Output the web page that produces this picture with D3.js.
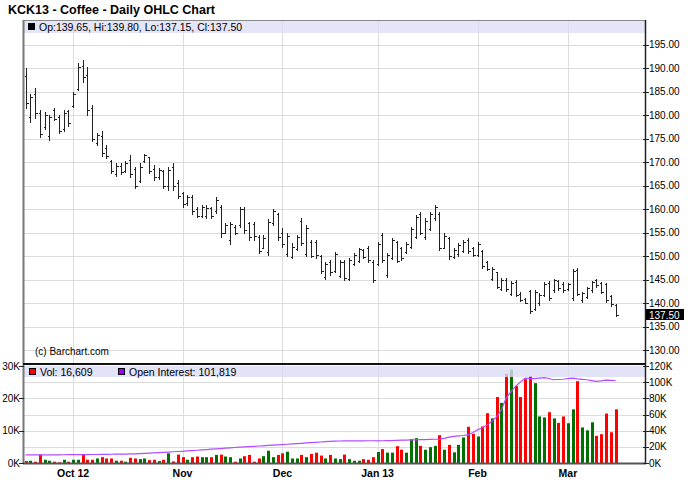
<!DOCTYPE html>
<html><head><meta charset="utf-8">
<script src="https://cdn.jsdelivr.net/npm/d3@7/dist/d3.min.js"></script>
<style>
body{margin:0;background:#fff}
svg{display:block}
text{font-family:"Liberation Sans",Arial,sans-serif}
</style>
</head><body>
<svg id="chart" width="688" height="503"></svg>
<script>
// ---------------- DATA ----------------
const dates = [
"2012-09-17","2012-09-18","2012-09-19","2012-09-20","2012-09-21","2012-09-24","2012-09-25","2012-09-26","2012-09-27","2012-09-28",
"2012-10-01","2012-10-02","2012-10-03","2012-10-04","2012-10-05","2012-10-08","2012-10-09","2012-10-10","2012-10-11","2012-10-12",
"2012-10-15","2012-10-16","2012-10-17","2012-10-18","2012-10-19","2012-10-22","2012-10-23","2012-10-24","2012-10-25","2012-10-26",
"2012-10-29","2012-10-30","2012-10-31",
"2012-11-01","2012-11-02","2012-11-05","2012-11-06","2012-11-07","2012-11-08","2012-11-09","2012-11-12","2012-11-13","2012-11-14",
"2012-11-15","2012-11-16","2012-11-19","2012-11-20","2012-11-21","2012-11-23","2012-11-26","2012-11-27","2012-11-28","2012-11-29","2012-11-30",
"2012-12-03","2012-12-04","2012-12-05","2012-12-06","2012-12-07","2012-12-10","2012-12-11","2012-12-12","2012-12-13","2012-12-14",
"2012-12-17","2012-12-18","2012-12-19","2012-12-20","2012-12-21","2012-12-24","2012-12-26","2012-12-27","2012-12-28","2012-12-31",
"2013-01-02","2013-01-03","2013-01-04","2013-01-07","2013-01-08","2013-01-09","2013-01-10","2013-01-11","2013-01-14","2013-01-15",
"2013-01-16","2013-01-17","2013-01-18","2013-01-22","2013-01-23","2013-01-24","2013-01-25","2013-01-28","2013-01-29","2013-01-30","2013-01-31",
"2013-02-01","2013-02-04","2013-02-05","2013-02-06","2013-02-07","2013-02-08","2013-02-11","2013-02-12","2013-02-13","2013-02-14",
"2013-02-15","2013-02-19","2013-02-20","2013-02-21","2013-02-22","2013-02-25","2013-02-26","2013-02-27","2013-02-28",
"2013-03-01","2013-03-04","2013-03-05","2013-03-06","2013-03-07","2013-03-08","2013-03-11","2013-03-12","2013-03-13","2013-03-14","2013-03-15"
];
const opens = [188.2,179.5,184.5,180.5,177.5,175.5,181.0,179.5,177.0,180.8,182.0,185.5,190.5,188.5,181.5,174.0,175.5,173.0,170.2,167.5,
169.2,168.0,170.5,168.5,166.0,170.2,171.0,168.5,166.8,168.0,164.8,169.0,165.5,163.5,161.2,162.5,160.0,158.6,158.5,160.2,
159.5,160.5,155.0,153.5,156.2,156.5,160.0,157.0,156.8,154.0,151.8,150.8,157.0,159.0,155.0,150.5,149.8,151.5,157.5,150.5,
153.0,153.0,150.0,145.5,148.8,146.8,145.8,148.8,145.2,148.3,149.0,151.2,151.8,148.8,148.3,154.5,146.0,149.6,153.0,151.8,
150.8,152.0,154.0,159.0,154.0,155.8,158.0,159.0,151.8,153.8,149.8,150.4,151.0,153.5,151.8,150.2,151.0,148.7,145.2,146.5,
143.0,145.0,141.9,144.5,142.0,140.9,142.5,138.8,139.9,141.7,144.3,142.7,144.6,144.0,143.0,141.0,147.0,140.6,141.3,142.7,
144.9,144.2,144.0,141.5,139.65];
const highs = [190.1,184.4,185.7,181.1,180.6,180.0,181.4,180.0,181.1,181.1,185.0,191.0,191.7,190.3,182.1,176.1,176.6,173.6,170.4,169.7,
169.7,170.2,171.5,169.0,169.7,171.8,171.1,169.4,168.7,168.3,168.9,169.7,166.2,163.7,163.0,163.0,160.5,160.9,160.9,160.5,
162.6,160.9,157.0,157.3,156.6,160.5,160.5,157.3,157.3,154.5,154.5,157.8,160.1,159.2,155.9,154.8,152.7,154.5,158.0,156.6,
153.3,153.4,150.2,148.8,149.1,150.9,149.1,149.1,149.6,150.6,151.8,151.5,152.2,149.1,152.9,154.8,150.6,153.9,153.2,152.0,
152.9,156.2,158.7,159.3,158.0,159.4,160.9,159.4,154.8,154.1,151.6,152.7,153.4,153.8,152.0,152.9,151.3,148.9,147.7,146.7,
145.4,145.3,144.7,144.9,142.4,141.1,142.8,142.8,142.1,144.4,144.7,145.1,144.9,144.4,144.2,147.2,147.5,142.4,143.5,144.7,
145.1,144.4,144.2,141.7,139.80];
const lows = [181.5,178.6,179.3,175.4,177.0,174.7,178.9,176.1,176.6,177.7,181.8,185.3,187.1,180.0,174.5,173.6,171.3,170.8,167.6,167.1,
167.4,167.8,166.9,164.5,165.8,169.9,167.6,166.2,166.4,164.5,164.0,164.0,162.3,160.5,160.9,158.9,158.2,158.4,158.0,158.0,
159.1,154.1,154.8,152.6,154.7,156.1,155.0,153.5,153.4,150.6,151.6,150.2,156.6,153.4,152.0,150.0,149.5,151.3,152.3,149.9,
149.7,149.5,146.3,145.2,146.0,146.5,145.6,144.9,144.9,148.1,148.8,149.5,148.8,144.4,148.1,148.8,145.6,149.4,148.7,149.1,
150.6,151.8,153.8,154.6,153.6,155.5,157.7,151.3,151.6,149.4,149.6,150.1,150.8,150.6,149.9,149.9,147.4,147.0,144.9,143.1,
142.8,142.6,141.6,141.4,140.4,139.9,137.8,138.5,139.6,141.4,140.6,142.4,142.8,142.4,142.8,140.6,141.7,140.3,141.0,142.4,
143.5,142.1,140.3,139.4,137.15];
const closes = [182.5,183.9,180.5,176.0,180.0,179.5,179.2,176.5,180.5,178.2,184.5,190.2,188.0,181.0,175.0,175.8,172.0,171.2,168.0,169.2,
167.8,169.8,167.5,165.0,169.0,171.5,168.0,166.8,168.2,165.0,168.2,165.0,162.8,161.0,162.5,159.5,158.6,160.5,160.2,158.5,
162.0,155.0,156.5,156.8,155.0,160.0,155.5,154.0,154.2,151.0,153.8,157.2,159.5,154.0,152.5,154.2,152.0,154.0,152.8,156.0,
150.0,150.2,146.8,148.3,146.5,150.5,148.8,145.3,149.2,150.2,151.5,149.8,149.2,145.0,152.5,149.2,150.2,153.5,149.0,149.5,
152.6,155.8,158.3,155.0,157.5,159.0,160.5,151.8,154.3,150.0,151.3,152.3,153.0,151.0,150.2,152.5,147.8,147.3,147.3,143.5,
145.0,143.0,144.3,141.8,140.7,140.1,138.2,142.3,141.8,144.0,141.0,144.8,143.1,142.7,144.0,146.8,142.0,142.1,143.2,144.4,
143.8,142.4,140.6,139.7,137.50];
// volume in thousands of contracts (left scale)
const volumes = [0.6,0.7,0.4,2.6,1.0,0.7,0.4,0.2,1.0,0.4,1.0,1.0,2.6,1.0,1.0,1.4,1.8,1.4,1.4,0.7,
0.7,0.4,1.6,1.4,1.2,1.4,0.9,1.0,0.6,1.0,3.0,0.5,2.6,1.8,1.0,1.8,2.0,1.8,1.8,1.8,
2.5,2.6,2.0,1.8,0.4,1.4,2.1,2.5,0.4,1.4,2.1,3.8,1.8,2.5,3.0,3.5,1.4,1.4,2.5,1.8,
2.8,3.2,2.3,1.4,2.5,1.4,1.2,2.6,1.2,0.7,0.7,1.2,1.0,1.8,3.4,4.3,3.2,3.2,5.2,4.1,
3.2,7.4,7.7,5.3,4.1,4.9,5.3,8.6,4.1,5.6,3.3,5.6,7.9,11.2,9.0,8.2,11.3,15.4,13.8,20.4,
18.6,27.6,28.9,23.8,20.4,25.9,26.9,24.7,14.4,14.1,15.7,13.8,12.4,14.4,12.3,16.6,25.3,11.0,10.1,12.6,
8.4,8.9,15.3,9.5,16.609];
// open interest in thousands of contracts (right scale)
const openInterest = [10.0,10.0,10.1,10.0,10.1,10.1,10.2,10.1,10.2,10.3,10.3,10.4,10.3,10.4,10.5,10.5,10.6,10.7,10.8,10.9,
11.0,11.1,11.2,11.4,11.7,12.0,12.3,12.6,12.9,13.2,13.5,13.9,14.2,14.5,14.9,15.3,15.8,16.2,16.6,17.1,
17.5,17.9,18.4,18.8,19.2,19.6,19.9,20.3,20.6,21.0,21.3,21.7,22.1,22.4,22.8,23.2,23.6,24.0,24.4,24.8,
25.2,25.6,26.0,26.4,26.7,27.0,27.2,27.3,27.4,27.4,27.3,27.4,27.5,27.5,27.4,27.5,27.6,27.8,28.0,28.2,
28.4,28.6,28.7,28.9,29.0,29.2,29.4,29.5,30.5,32.0,33.0,33.6,34.0,34.8,37.5,41.0,43.5,47.0,51.5,57.0,
65.5,80.0,88.0,95.0,100.0,105.0,104.5,104.4,105.0,105.7,104.5,103.0,103.3,103.6,104.5,105.0,104.0,103.5,103.0,102.0,
101.0,101.5,102.4,102.1,101.819];
const priceTicks = [130,135,140,145,150,155,160,165,170,175,180,185,190,195];
const volTicks = [0,10,20,30];
const oiTicks = [0,20,40,60,80,100,120];
const monthStarts = ["2012-10-01","2012-11-01","2012-12-03","2013-01-02","2013-02-01","2013-03-01"];
const monthLabels = ["Oct 12","Nov","Dec","Jan 13","Feb","Mar"];

// ---------------- LAYOUT ----------------
const svg = d3.select("#chart");
const L = 24, R = 645, T = 20, MB = 364, VT = 365, VB = 463;
const x = d3.scalePoint().domain(dates).range([25.5, 615.5]);
const y = d3.scaleLinear().domain([130, 195]).range([350, 44.5]);
const yV = d3.scaleLinear().domain([0, 30]).range([VB, 366]);
const yOI = d3.scaleLinear().domain([0, 120]).range([VB, 366]);
const px = v => Math.round(v) + 0.5;
const gridCol = "#dcdcdc";

svg.append("rect").attr("width", 688).attr("height", 503).attr("fill", "#fff");

// title
svg.append("text").attr("x", 8).attr("y", 14).attr("font-size", 12.5).attr("font-weight", "bold")
  .attr("fill", "#000").text("KCK13 - Coffee - Daily OHLC Chart");

// price gridlines
svg.append("g").selectAll("line").data(priceTicks).join("line")
  .attr("x1", L).attr("x2", R).attr("y1", d => px(y(d))).attr("y2", d => px(y(d)))
  .attr("stroke", gridCol).attr("stroke-width", 1);
// volume gridlines
svg.append("g").selectAll("line").data(oiTicks.slice(1, -1)).join("line")
  .attr("x1", L).attr("x2", R).attr("y1", d => px(yOI(d))).attr("y2", d => px(yOI(d)))
  .attr("stroke", gridCol).attr("stroke-width", 1);
// month gridlines
svg.append("g").selectAll("line").data(monthStarts).join("line")
  .attr("x1", d => px(x(d))).attr("x2", d => px(x(d))).attr("y1", T).attr("y2", VB)
  .attr("stroke", gridCol).attr("stroke-width", 1);

// OHLC bars
const bars = svg.append("g").attr("stroke", "#222").attr("stroke-width", 1).attr("shape-rendering", "crispEdges");
dates.forEach((d, i) => {
  const cx = px(x(d));
  bars.append("line").attr("x1", cx).attr("x2", cx).attr("y1", Math.round(y(highs[i]))).attr("y2", Math.round(y(lows[i])) + 1);
  bars.append("line").attr("x1", cx - 2).attr("x2", cx).attr("y1", px(y(opens[i]))).attr("y2", px(y(opens[i])));
  bars.append("line").attr("x1", cx).attr("x2", cx + 2.5).attr("y1", px(y(closes[i]))).attr("y2", px(y(closes[i])));
});

// main legend band
svg.append("rect").attr("x", L).attr("y", T).attr("width", R - L).attr("height", 13)
  .attr("fill", "#dcdcf5").attr("opacity", 0.75);
svg.append("rect").attr("x", 28).attr("y", 23).attr("width", 7).attr("height", 7).attr("fill", "#000");
const n = dates.length - 1;
svg.append("text").attr("x", 39).attr("y", 30.5).attr("font-size", 10.5).attr("fill", "#000")
  .text(`Op:${opens[n].toFixed(2)}, Hi:${highs[n].toFixed(2)}, Lo:${lows[n].toFixed(2)}, Cl:${closes[n].toFixed(2)}`);

// copyright
svg.append("text").attr("x", 35).attr("y", 355).attr("font-size", 10).attr("fill", "#000").text("(c) Barchart.com");

// volume bars
svg.append("g").selectAll("rect").data(dates).join("rect")
  .attr("x", d => Math.round(x(d)) - 1).attr("width", 3)
  .attr("y", (d, i) => yV(volumes[i])).attr("height", (d, i) => VB - yV(volumes[i]))
  .attr("fill", (d, i) => closes[i] >= opens[i] ? "#007000" : "#ff0000");

// volume legend band
svg.append("rect").attr("x", L).attr("y", 366).attr("width", R - L).attr("height", 11)
  .attr("fill", "#dcdcf5").attr("opacity", 0.8);
svg.append("rect").attr("x", 29.5).attr("y", 368.5).attr("width", 6).attr("height", 6)
  .attr("fill", "#ff0000").attr("stroke", "#000").attr("stroke-width", 1);
svg.append("text").attr("x", 40).attr("y", 375.5).attr("font-size", 10.5).attr("fill", "#000")
  .text("Vol: " + d3.format(",")(Math.round(volumes[n] * 1000)));
svg.append("rect").attr("x", 118.5).attr("y", 368.5).attr("width", 6).attr("height", 6)
  .attr("fill", "#9900ff").attr("stroke", "#000").attr("stroke-width", 1);
svg.append("text").attr("x", 129).attr("y", 375.5).attr("font-size", 10.5).attr("fill", "#000")
  .text("Open Interest: " + d3.format(",")(Math.round(openInterest[n] * 1000)));

// open interest line
svg.append("path").datum(dates)
  .attr("d", d3.line().x(d => x(d)).y((d, i) => yOI(openInterest[i])))
  .attr("fill", "none").attr("stroke", "#b44cff").attr("stroke-width", 1.2);

// frame
svg.append("line").attr("x1", L).attr("x2", R).attr("y1", T + 0.5).attr("y2", T + 0.5).attr("stroke", "#888");
svg.append("line").attr("x1", L - 0.5).attr("x2", L - 0.5).attr("y1", T).attr("y2", VB + 1).attr("stroke", "#777").attr("stroke-width", 2);
svg.append("line").attr("x1", R + 0.5).attr("x2", R + 0.5).attr("y1", T).attr("y2", VB + 1).attr("stroke", "#222").attr("stroke-width", 1.5);
svg.append("line").attr("x1", L - 1).attr("x2", R + 1).attr("y1", MB).attr("y2", MB).attr("stroke", "#111").attr("stroke-width", 2);
svg.append("line").attr("x1", L - 1).attr("x2", R + 1).attr("y1", VB + 0.5).attr("y2", VB + 0.5).attr("stroke", "#555").attr("stroke-width", 2);

// right price axis
const ra = svg.append("g");
ra.selectAll("line").data(priceTicks).join("line")
  .attr("x1", R - 2).attr("x2", R + 4).attr("y1", d => px(y(d))).attr("y2", d => px(y(d))).attr("stroke", "#222");
ra.selectAll("text").data(priceTicks).join("text")
  .attr("x", 649).attr("y", d => y(d) + 3.5).attr("font-size", 10).attr("fill", "#000")
  .text(d => d.toFixed(2));
// last price box
svg.append("rect").attr("x", 646).attr("y", Math.round(y(closes[n])) - 6).attr("width", 38).attr("height", 11).attr("fill", "#000");
svg.append("text").attr("x", 649).attr("y", Math.round(y(closes[n])) + 3.5).attr("font-size", 10).attr("fill", "#fff")
  .text(closes[n].toFixed(2));

// right OI axis
const oa = svg.append("g");
oa.selectAll("line").data(oiTicks).join("line")
  .attr("x1", R - 2).attr("x2", R + 4).attr("y1", d => px(yOI(d))).attr("y2", d => px(yOI(d))).attr("stroke", "#222");
oa.selectAll("text").data(oiTicks).join("text")
  .attr("x", 649).attr("y", d => yOI(d) + 3.5).attr("font-size", 10).attr("fill", "#000")
  .text(d => d + "K");

// left volume axis
const va = svg.append("g");
va.selectAll("line").data(volTicks).join("line")
  .attr("x1", L - 5).attr("x2", L).attr("y1", d => px(yV(d))).attr("y2", d => px(yV(d))).attr("stroke", "#222");
va.selectAll("text").data(volTicks).join("text")
  .attr("x", L - 4).attr("y", d => yV(d) + 3.5).attr("text-anchor", "end").attr("font-size", 10).attr("fill", "#000")
  .text(d => d + "K");

// x axis labels
svg.append("g").selectAll("text").data(monthStarts).join("text")
  .attr("x", d => x(d)).attr("y", 477).attr("text-anchor", "middle").attr("font-size", 10.5)
  .attr("font-weight", "bold").attr("fill", "#000")
  .text((d, i) => monthLabels[i]);
</script>
</body></html>
